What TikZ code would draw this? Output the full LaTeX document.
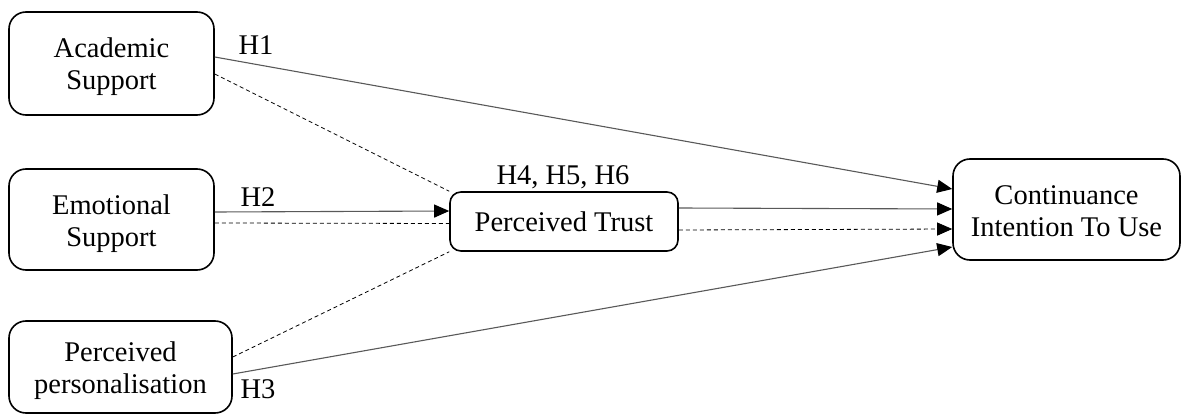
\documentclass[tikz,border=0pt]{standalone}
\usepackage{fontspec}
\setmainfont{Liberation Serif}
\usetikzlibrary{arrows.meta}
\begin{document}
\begin{tikzpicture}[x=1pt,y=-1pt,
  box/.style={draw=black, line width=1.6pt, rounded corners=17pt, align=center,
    font=\fontsize{28.5}{32}\selectfont, inner sep=0pt},
  twoline/.style={text height=53pt, text depth=0pt},
  hlabel/.style={font=\fontsize{28.5}{32}\selectfont, anchor=base, inner sep=0pt},
  path/.style={draw=black!65, line width=1.1pt},
  med/.style={draw=black, line width=0.8pt, dash pattern=on 4pt off 3pt},
  tip/.style={-{Triangle[length=15pt,width=13pt,black]}}]
\useasboundingbox (0,0) rectangle (1188,414);

% constructs
\node[box, twoline, minimum width=205pt, minimum height=103pt] (acad) at (111.5,63.5) {Academic\\Support};
\node[box, twoline, minimum width=205pt, minimum height=101pt] (emo) at (111.5,219.5) {Emotional\\Support};
\node[box, twoline, minimum width=223pt, minimum height=92pt] (pers) at (120.5,367) {Perceived\\personalisation};
\node[box, rounded corners=11pt, minimum width=228pt, minimum height=59pt] (trust) at (564,221.5) {Perceived Trust};
\node[box, twoline, minimum width=227pt, minimum height=101pt] (cit) at (1066.5,209.5) {Continuance\\Intention To Use};

% direct paths
\draw[path, tip] ([yshift=6.5pt]acad.east) -- ([yshift=20.5pt]cit.west);
\draw[path, tip] ([yshift=7.5pt]emo.east) -- ([yshift=10.5pt]trust.west);
\draw[path, tip] ([yshift=-7pt]pers.east) -- ([yshift=-37.5pt]cit.west);
\draw[path, tip] ([yshift=13.5pt]trust.east) -- ([yshift=0.5pt]cit.west);

% mediated paths
\draw[med] ([yshift=-10.5pt]acad.east) -- (trust.north west);
\draw[med] ([yshift=-3.5pt]emo.east) -- ([yshift=-2pt]trust.west);
\draw[med] ([yshift=10pt]pers.east) -- (trust.south west);
\draw[med, tip] ([yshift=-8.5pt]trust.east) -- ([yshift=-19.5pt]cit.west);

% hypothesis labels
\node[hlabel] (h1) at (256,55) {H1};
\node[hlabel] (h2) at (258,207) {H2};
\node[hlabel] (h3) at (258,398) {H3};
\node[hlabel] (h456) at (563,185) {H4, H5, H6};
\end{tikzpicture}
\end{document}
